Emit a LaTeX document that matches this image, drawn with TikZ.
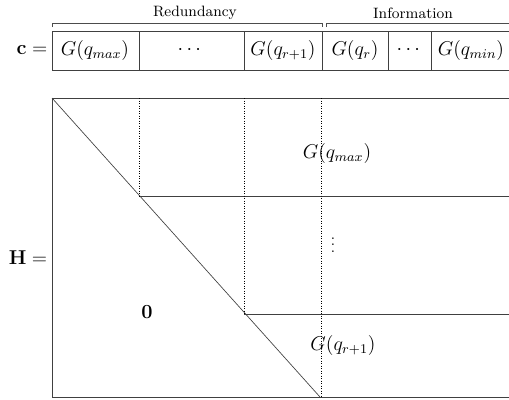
\documentclass[tikz,border=0pt]{standalone}
\usepackage{amsmath,amssymb}
\usepackage{tikz}
\usetikzlibrary{positioning}

\tikzset{
  part/.style={draw=black!75,line width=0.5pt},
  guide/.style={densely dotted,line width=0.5pt},
  lbl/.style={inner sep=1pt,font=\large},
}

\begin{document}
\begin{tikzpicture}[x=0.6pt,y=-0.6pt,font=\small]
\useasboundingbox (0,0) rectangle (509,399);
\clip (0,0) rectangle (509,399);
% braces over the code word
\draw[line width=0.4pt,black!70] (52,27)--(52,23)--(322,23)--(322,27);
\draw[line width=0.4pt,black!70] (326,27)--(326,23)--(520,23);
\node (red) at (195,13) {Redundancy};
\node (inf) at (413,13) {Information};
% code word c
\node[lbl] (c) at (32,50) {$\mathbf{c}=$};
\draw[part] (520,31)--(52,31)--(52,70)--(520,70);
\foreach \xx in {139,244,322,388,431}
  \draw[part] (\xx,31)--(\xx,70);
\node[lbl] (c1) at (95,50) {$G(q_{max})$};
\node[lbl] (c2) at (191,50) {$\cdots$};
\node[lbl] (c3) at (283,50) {$G(q_{r+1})$};
\node[lbl] (c4) at (355,50) {$G(q_r)$};
\node[lbl] (c5) at (410,50) {$\cdots$};
\node[lbl] (c6) at (471,50) {$G(q_{min})$};
% matrix H
\node[lbl] (H) at (28,258) {$\mathbf{H}=$};
\draw[part] (520,98)--(52,98)--(52,397)--(520,397);
\draw[line width=0.4pt,black!75] (52,98)--(320,397);
\draw[part] (139,196)--(520,196);
\draw[part] (244,314)--(520,314);
\draw[guide] (139,98)--(139,196);
\draw[guide] (244,98)--(244,314);
\draw[guide] (321,98)--(321,397);
\node[lbl] (g1) at (337,153) {$G(q_{max})$};
\node[inner sep=0pt,font=\small] (dd) at (333,240) {$\vdots$};
\node[lbl] (g2) at (343,345) {$G(q_{r+1})$};
\node[lbl] (z) at (147,312) {$\mathbf{0}$};
\end{tikzpicture}
\end{document}
